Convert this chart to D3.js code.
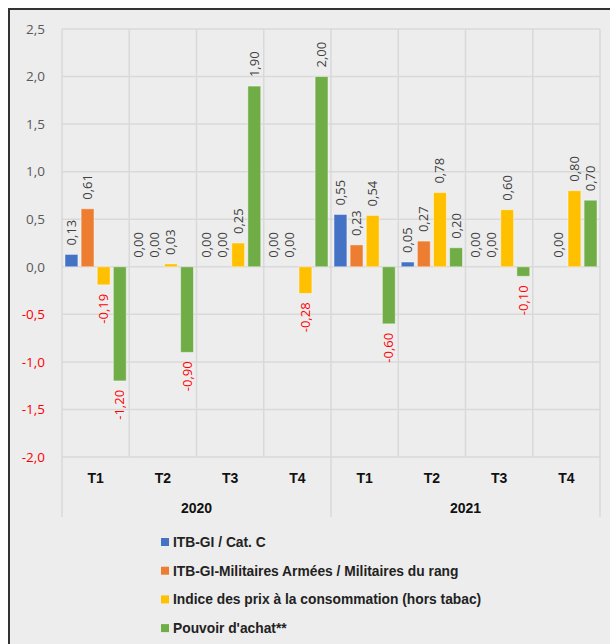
<!DOCTYPE html>
<html>
<head>
<meta charset="utf-8">
<script src="https://cdn.jsdelivr.net/npm/d3@7"></script>
<style>
  body { margin: 0; background: #fff; }
  svg { font-family: "Liberation Sans", "DejaVu Sans", sans-serif; }
</style>
</head>
<body>
<div id="chart"></div>
<script>
// data
const quarters = ["T1", "T2", "T3", "T4", "T1", "T2", "T3", "T4"];
const years = ["2020", "2021"];
const seriesNames = [
  "ITB-GI / Cat. C",
  "ITB-GI-Militaires Armées / Militaires du rang",
  "Indice des prix à la consommation (hors tabac)",
  "Pouvoir d'achat**"
];
const itbCatC = [0.13, 0.00, 0.00, 0.00, 0.55, 0.05, 0.00, null];
const itbMilitaires = [0.61, 0.00, 0.00, 0.00, 0.23, 0.27, 0.00, 0.00];
const prixConso = [-0.19, 0.03, 0.25, -0.28, 0.54, 0.78, 0.60, 0.80];
const pouvoirAchat = [-1.20, -0.90, 1.90, 2.00, -0.60, 0.20, -0.10, 0.70];
const yTicks = [-2.0, -1.5, -1.0, -0.5, 0.0, 0.5, 1.0, 1.5, 2.0, 2.5];
const colors = ["#4472C4", "#ED7D31", "#FFC000", "#70AD47"];

const allSeries = [itbCatC, itbMilitaires, prixConso, pouvoirAchat];

let svgWidth = 610;
let svgHeight = 644;
let plot = { left: 62, right: 600, top: 29, bottom: 457 };

const fmt = v => v.toFixed(2).replace(".", ",");

let svg = d3.select("#chart").append("svg")
  .attr("width", svgWidth)
  .attr("height", svgHeight);

// frame
svg.append("rect")
  .attr("x", 9).attr("y", 9)
  .attr("width", svgWidth).attr("height", svgHeight)
  .attr("fill", "#ededed");
svg.append("line").attr("x1", 9).attr("x2", 9).attr("y1", 8).attr("y2", svgHeight)
  .attr("stroke", "#333").attr("stroke-width", 2);
svg.append("line").attr("x1", 8).attr("x2", svgWidth).attr("y1", 9).attr("y2", 9)
  .attr("stroke", "#333").attr("stroke-width", 2);

let yScale = d3.scaleLinear().domain([-2, 2.5]).range([plot.bottom, plot.top]);
let xScale = d3.scaleBand().domain(d3.range(quarters.length)).range([plot.left, plot.right]);
let xInner = d3.scaleBand().domain(d3.range(4))
  .range([3, xScale.bandwidth() - 3]).paddingInner(0.2);

// horizontal gridlines
svg.append("g").selectAll("line").data(yTicks).join("line")
  .attr("x1", plot.left).attr("x2", plot.right)
  .attr("y1", d => yScale(d)).attr("y2", d => yScale(d))
  .attr("stroke", "#d9d9d9").attr("stroke-width", 1.5);

// vertical gridlines between quarters
svg.append("g").selectAll("line").data(d3.range(quarters.length + 1)).join("line")
  .attr("x1", i => plot.left + i * xScale.step())
  .attr("x2", i => plot.left + i * xScale.step())
  .attr("y1", plot.top)
  .attr("y2", i => (i % 4 === 0) ? 517 : plot.bottom)
  .attr("stroke", "#d9d9d9").attr("stroke-width", 1.5);

// y axis labels
let yAxis = d3.axisLeft(yScale).tickValues(yTicks).tickSize(0).tickPadding(0)
  .tickFormat(d => d.toFixed(1).replace(".", ","));
let yg = svg.append("g").attr("transform", `translate(45,0)`).call(yAxis);
yg.select(".domain").remove();
yg.attr("font-family", null).attr("font-size", null);
yg.selectAll("text")
  .style("font-size", "13.5px")
  .style("font-family", "'Open Sans', sans-serif")
  .attr("fill", d => d < 0 ? "#ff0000" : "#595959");

// quarter labels
svg.append("g").selectAll("text").data(quarters).join("text")
  .attr("x", (d, i) => xScale(i) + xScale.bandwidth() / 2)
  .attr("y", 483)
  .attr("text-anchor", "middle")
  .attr("font-size", 14).attr("font-weight", "bold").attr("fill", "#111")
  .text(d => d);

// year labels
svg.append("g").selectAll("text").data(years).join("text")
  .attr("x", (d, i) => plot.left + (i * 4 + 2) * xScale.step())
  .attr("y", 513)
  .attr("text-anchor", "middle")
  .attr("font-size", 14).attr("font-weight", "bold").attr("fill", "#111")
  .text(d => d);

// bars + labels
allSeries.forEach((values, s) => {
  let pts = values.map((v, i) => ({ v, i })).filter(d => d.v !== null);
  let g = svg.append("g");
  g.selectAll("rect").data(pts).join("rect")
    .attr("x", d => xScale(d.i) + xInner(s))
    .attr("width", xInner.bandwidth())
    .attr("y", d => yScale(Math.max(0, d.v)))
    .attr("height", d => Math.abs(yScale(d.v) - yScale(0)))
    .attr("fill", colors[s])
    .attr("stroke", "#fff").attr("stroke-opacity", 0.45).attr("stroke-width", 1);

  g.selectAll("text").data(pts).join("text")
    .attr("transform", d => {
      let cx = xScale(d.i) + xInner(s) + xInner.bandwidth() / 2;
      let y = d.v >= 0 ? yScale(d.v) - 9 : yScale(d.v) + 9;
      return `translate(${cx},${y}) rotate(-90)`;
    })
    .attr("dy", "0.35em")
    .attr("text-anchor", d => d.v >= 0 ? "start" : "end")
    .style("font-size", "13px")
    .style("font-family", "'Open Sans', sans-serif")
    .attr("fill", d => d.v < 0 ? "#ff0000" : "#404040")
    .text(d => fmt(d.v));
});

// legend
let legend = svg.append("g").selectAll("g").data(seriesNames).join("g")
  .attr("transform", (d, i) => `translate(161,${542 + i * 28.7})`);
legend.append("rect")
  .attr("x", 0).attr("y", -4).attr("width", 8).attr("height", 8)
  .attr("fill", (d, i) => colors[i]);
legend.append("text")
  .attr("x", 12).attr("y", 0).attr("dy", "0.35em")
  .attr("font-size", 13.8).attr("font-weight", "bold").attr("fill", "#222")
  .text(d => d);
</script>
</body>
</html>
